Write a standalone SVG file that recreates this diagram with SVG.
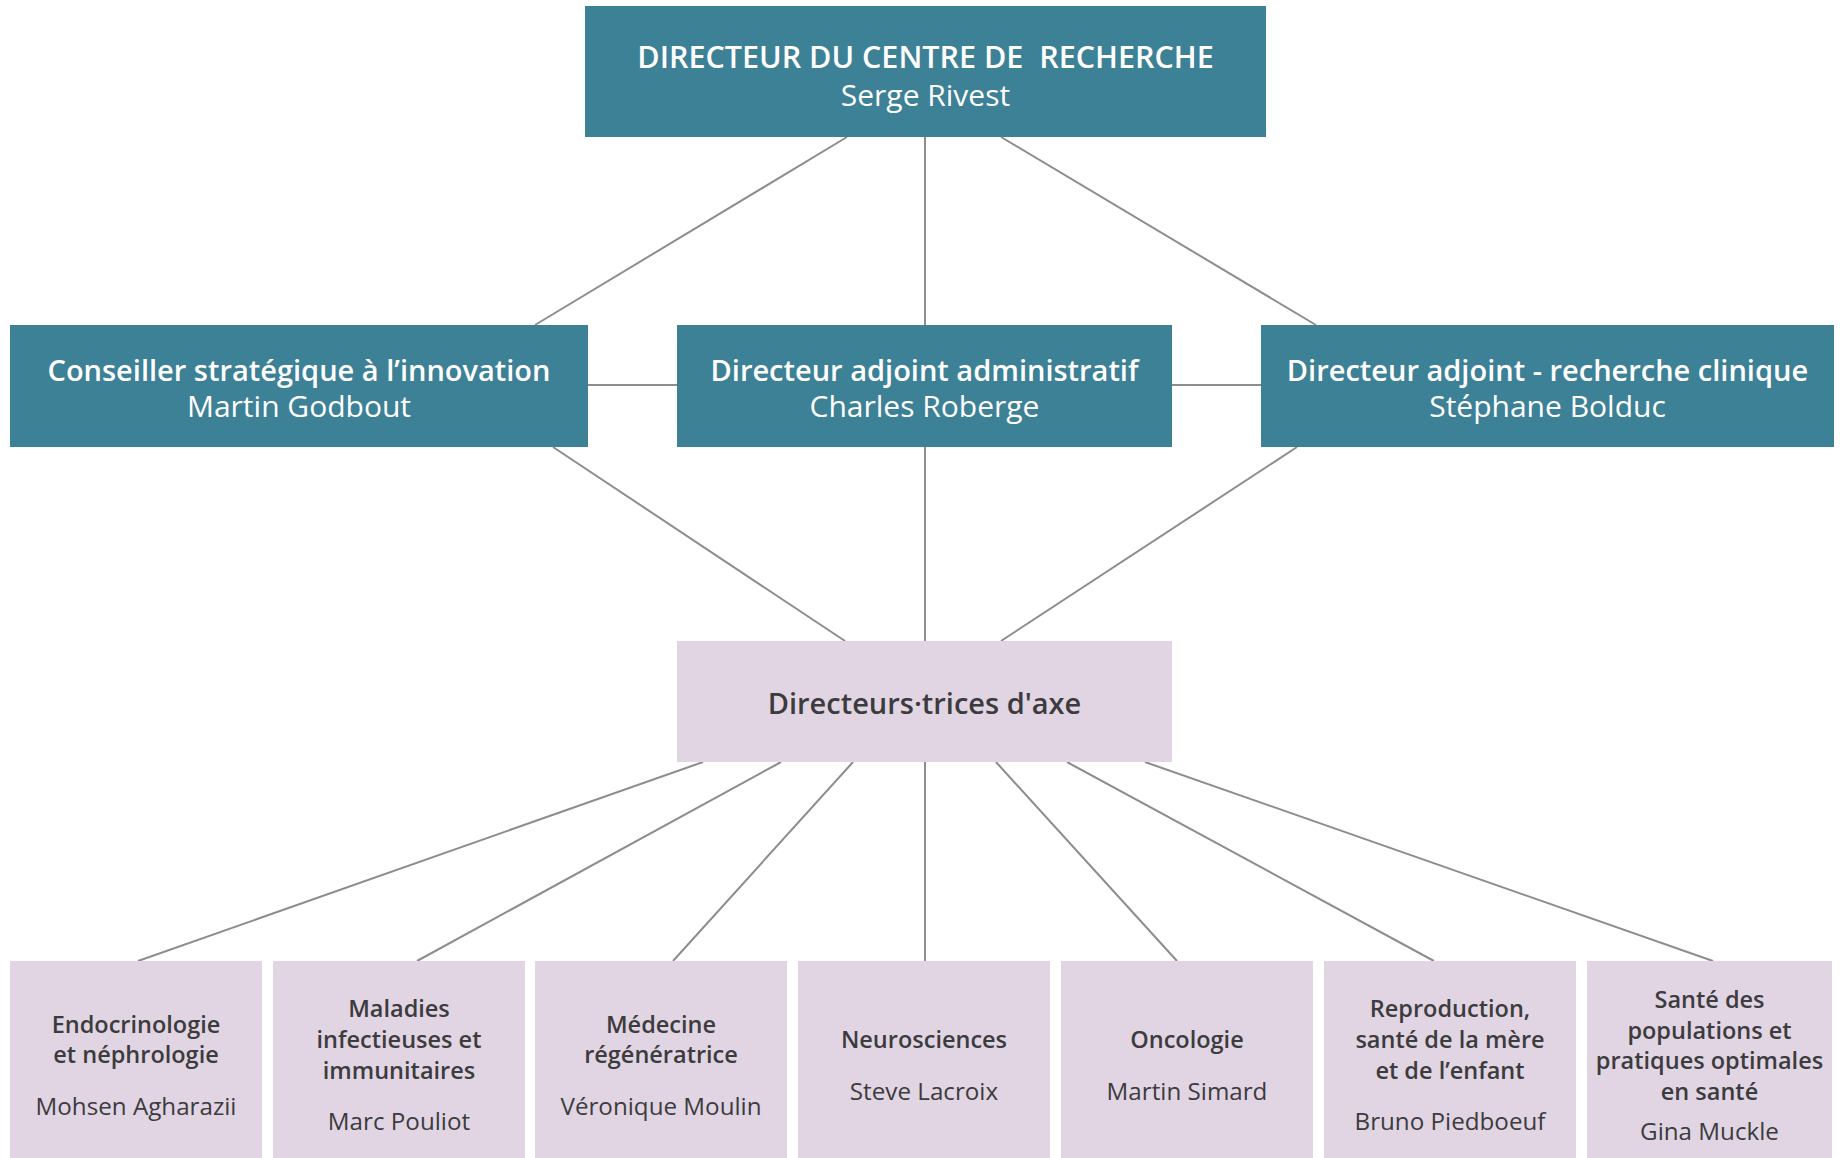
<svg xmlns="http://www.w3.org/2000/svg" width="1845" height="1158" viewBox="0 0 1845 1158">
<style>
.teal{fill:#3d8196}
.lav{fill:#e1d5e3}
.wt{fill:#ffffff;font-family:"Open Sans",Lato,"Liberation Sans",sans-serif;text-anchor:middle}
.dt{fill:#3c3b3d;font-family:"Open Sans",Lato,"Liberation Sans",sans-serif;text-anchor:middle}
.b{font-weight:600}
.tt{font-size:29px}
.tn{font-size:30px}
.t22{font-size:23.5px}
.n22{font-size:24.2px}
.con line{stroke:#8d8d8d;stroke-width:2;fill:none}
</style>
<rect width="1845" height="1158" fill="#ffffff"/>
<g class="con" id="connectors">
<line x1="847" y1="137" x2="535" y2="325"/>
<line x1="925" y1="137" x2="925" y2="325"/>
<line x1="1001" y1="137" x2="1316" y2="325"/>
<line x1="588" y1="385" x2="677" y2="385"/>
<line x1="1172" y1="385" x2="1261" y2="385"/>
<line x1="553" y1="447" x2="845" y2="641"/>
<line x1="925" y1="447" x2="925" y2="641"/>
<line x1="1297" y1="447" x2="1001" y2="641"/>
<line x1="703" y1="762" x2="138" y2="961"/>
<line x1="781" y1="762" x2="417" y2="961"/>
<line x1="853" y1="762" x2="673" y2="961"/>
<line x1="925" y1="762" x2="925" y2="961"/>
<line x1="996" y1="762" x2="1177" y2="961"/>
<line x1="1067" y1="762" x2="1434" y2="961"/>
<line x1="1145" y1="762" x2="1713" y2="961"/>
</g>
<g id="director">
<rect class="teal" x="585" y="6" width="681" height="131"/>
<text class="wt b" x="925.5" y="68" font-size="30.5" style="white-space:pre">DIRECTEUR DU CENTRE DE  RECHERCHE</text>
<text class="wt tn" x="925.5" y="106">Serge Rivest</text>
</g>
<g id="conseiller">
<rect class="teal" x="10" y="325" width="578" height="122"/>
<text class="wt b tt" x="299" y="381">Conseiller stratégique à l’innovation</text>
<text class="wt tn" x="299" y="417">Martin Godbout</text>
</g>
<g id="adjoint-admin">
<rect class="teal" x="677" y="325" width="495" height="122"/>
<text class="wt b tt" x="924.5" y="381">Directeur adjoint administratif</text>
<text class="wt tn" x="924.5" y="417">Charles Roberge</text>
</g>
<g id="adjoint-clinique">
<rect class="teal" x="1261" y="325" width="573" height="122"/>
<text class="wt b tt" x="1547.5" y="381">Directeur adjoint - recherche clinique</text>
<text class="wt tn" x="1547.5" y="417">Stéphane Bolduc</text>
</g>
<g id="axes">
<rect class="lav" x="677" y="641" width="495" height="121"/>
<text class="dt b tt" x="924.5" y="714">Directeurs·trices d'axe</text>
</g>
<g id="endo">
<rect class="lav" x="10" y="961" width="252" height="197"/>
<text class="dt b t22" x="136" y="1033">Endocrinologie</text>
<text class="dt b t22" x="136" y="1063">et néphrologie</text>
<text class="dt n22" x="136" y="1115">Mohsen Agharazii</text>
</g>
<g id="maladies">
<rect class="lav" x="273" y="961" width="252" height="197"/>
<text class="dt b t22" x="399" y="1017">Maladies</text>
<text class="dt b t22" x="399" y="1048">infectieuses et</text>
<text class="dt b t22" x="399" y="1079">immunitaires</text>
<text class="dt n22" x="399" y="1130">Marc Pouliot</text>
</g>
<g id="medecine">
<rect class="lav" x="535" y="961" width="252" height="197"/>
<text class="dt b t22" x="661" y="1033">Médecine</text>
<text class="dt b t22" x="661" y="1063">régénératrice</text>
<text class="dt n22" x="661" y="1115">Véronique Moulin</text>
</g>
<g id="neuro">
<rect class="lav" x="798" y="961" width="252" height="197"/>
<text class="dt b t22" x="924" y="1048">Neurosciences</text>
<text class="dt n22" x="924" y="1100">Steve Lacroix</text>
</g>
<g id="onco">
<rect class="lav" x="1061" y="961" width="252" height="197"/>
<text class="dt b t22" x="1187" y="1048">Oncologie</text>
<text class="dt n22" x="1187" y="1100">Martin Simard</text>
</g>
<g id="repro">
<rect class="lav" x="1324" y="961" width="252" height="197"/>
<text class="dt b t22" x="1450" y="1017">Reproduction,</text>
<text class="dt b t22" x="1450" y="1048">santé de la mère</text>
<text class="dt b t22" x="1450" y="1079">et de l’enfant</text>
<text class="dt n22" x="1450" y="1130">Bruno Piedboeuf</text>
</g>
<g id="sante">
<rect class="lav" x="1587" y="961" width="245" height="197"/>
<text class="dt b t22" x="1709.5" y="1008">Santé des</text>
<text class="dt b t22" x="1709.5" y="1039">populations et</text>
<text class="dt b t22" x="1709.5" y="1069">pratiques optimales</text>
<text class="dt b t22" x="1709.5" y="1100">en santé</text>
<text class="dt n22" x="1709.5" y="1140">Gina Muckle</text>
</g>
</svg>
